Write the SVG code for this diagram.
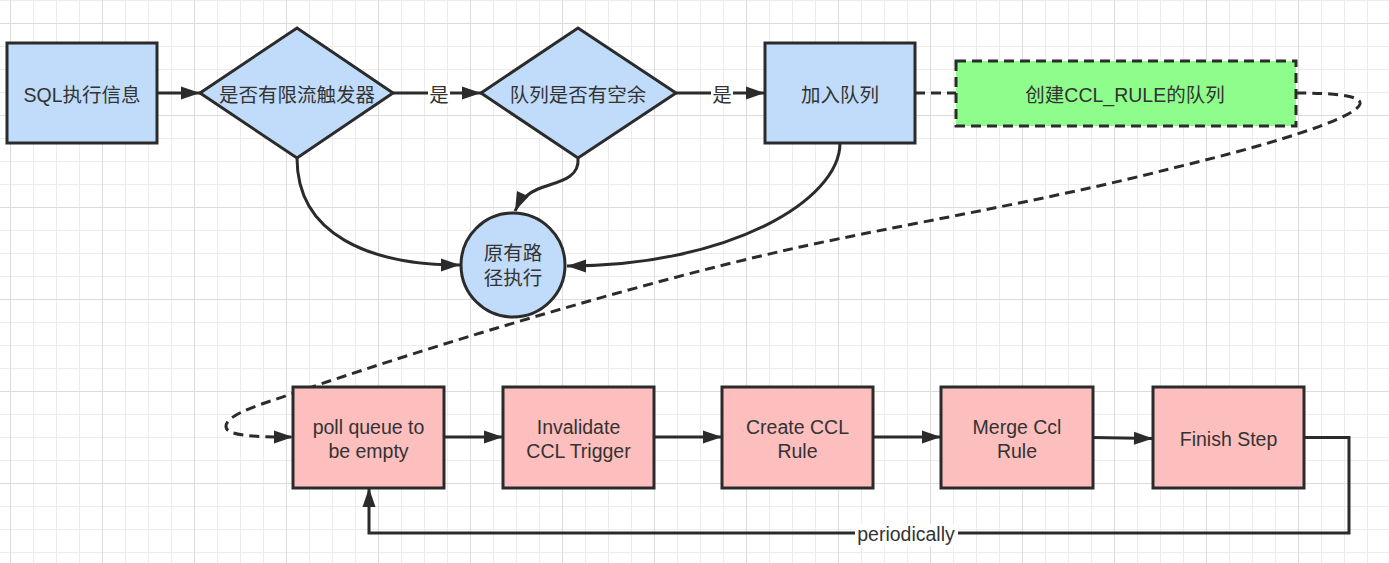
<svg xmlns="http://www.w3.org/2000/svg" width="1389" height="563" viewBox="0 0 1389 563">
<defs>
<pattern id="grid" x="10" y="23" width="92" height="92" patternUnits="userSpaceOnUse">
<rect width="92" height="92" fill="#ffffff"/>
<path d="M23.5,0V92M46.5,0V92M69.5,0V92M0,23.5H92M0,46.5H92M0,69.5H92" stroke="#ececec" stroke-width="1" fill="none"/>
<path d="M0.5,0V92M0,0.5H92" stroke="#dcdcdc" stroke-width="1" fill="none"/>
</pattern>
<marker id="arr" markerWidth="20" markerHeight="14" refX="19" refY="6.5" orient="auto" markerUnits="userSpaceOnUse" overflow="visible">
<path d="M0,0 L19,6.5 L0,13 z" fill="#2b2b2b"/>
</marker>
<style>
.node{stroke:#2b2b2b;stroke-width:3}
.blue{fill:#c0dcfa}
.pink{fill:#fdbebe}
.green{fill:#8ffd8b;stroke-dasharray:10 6}
.t{font-family:"Liberation Sans","Noto Sans CJK SC",sans-serif;font-size:19.5px;fill:#333333;text-anchor:middle}
.e{fill:none;stroke:#2b2b2b;stroke-width:3}
.dash{stroke-dasharray:10 6}
.lbl{fill:#ffffff}
</style>
</defs>
<rect width="1389" height="563" fill="url(#grid)"/>

<g id="connectors">
<path class="e" d="M157,93 L200,93" marker-end="url(#arr)"/>
<path class="e" d="M393,93 L481,93" marker-end="url(#arr)"/>
<rect class="lbl" x="428" y="84" width="22" height="22"/>
<text class="t" x="439" y="102">是</text>
<path class="e" d="M676,93 L765,93" marker-end="url(#arr)"/>
<rect class="lbl" x="711" y="84" width="22" height="22"/>
<text class="t" x="722" y="102">是</text>
<path class="e" d="M297,158 C297,235 370,265 460,265" marker-end="url(#arr)"/>
<path class="e" d="M578,158 C580,180 555,182 538,189 C528,193 520,200 515,211" marker-end="url(#arr)"/>
<path class="e" d="M840,143 C840,200 730,266 567,266" marker-end="url(#arr)"/>
<path class="e dash" d="M915,93 L956,93"/>
<path class="e dash" d="M1296,93 C1330,93 1362,95 1360,104 C1357,116 1290,140 1173,168 C1050,200 900,225 800,247 C700,269 590,300 497,328 C420,351 350,374 300,391 C270,402 225,413 226,427 C227,436 255,437 293,437" marker-end="url(#arr)"/>
<path class="e" d="M444,437 L503,437" marker-end="url(#arr)"/>
<path class="e" d="M654,437 L722,437" marker-end="url(#arr)"/>
<path class="e" d="M873,437 L941,437" marker-end="url(#arr)"/>
<path class="e" d="M1093,437.5 L1153,438.5" marker-end="url(#arr)"/>
<path class="e" d="M1304,437.5 L1349,437.5 L1349,533 L369,533 L369,488" marker-end="url(#arr)"/>
<rect class="lbl" x="855" y="524" width="103" height="22"/>
<text class="t" x="906" y="541">periodically</text>
</g>

<g id="n-sql">
<rect class="node blue" x="7" y="43" width="150" height="100"/>
<text class="t" x="82" y="101.5">SQL执行信息</text>
</g>
<g id="n-trigger">
<polygon class="node blue" points="200,93 297,28 393,93 297,158"/>
<text class="t" x="297" y="101.5">是否有限流触发器</text>
</g>
<g id="n-queue-space">
<polygon class="node blue" points="481,93 578,28 676,93 578,158"/>
<text class="t" x="578" y="101.5">队列是否有空余</text>
</g>
<g id="n-enqueue">
<rect class="node blue" x="765" y="43" width="150" height="100"/>
<text class="t" x="840" y="101.5">加入队列</text>
</g>
<g id="n-create-queue">
<rect class="node green" x="956" y="61" width="340" height="65"/>
<text class="t" x="1125" y="101.5">创建CCL_RULE的队列</text>
</g>
<g id="n-original">
<circle class="node blue" cx="513" cy="265" r="52"/>
<text class="t" x="513" y="260">原有路</text>
<text class="t" x="513" y="285">径执行</text>
</g>
<g id="n-poll">
<rect class="node pink" x="293" y="387" width="151" height="101"/>
<text class="t" x="368.5" y="434">poll queue to</text>
<text class="t" x="368.5" y="458">be empty</text>
</g>
<g id="n-invalidate">
<rect class="node pink" x="503" y="387" width="151" height="101"/>
<text class="t" x="578.5" y="434">Invalidate</text>
<text class="t" x="578.5" y="458">CCL Trigger</text>
</g>
<g id="n-create-rule">
<rect class="node pink" x="722" y="387" width="151" height="101"/>
<text class="t" x="797.5" y="434">Create CCL</text>
<text class="t" x="797.5" y="458">Rule</text>
</g>
<g id="n-merge">
<rect class="node pink" x="941" y="387" width="152" height="101"/>
<text class="t" x="1017" y="434">Merge Ccl</text>
<text class="t" x="1017" y="458">Rule</text>
</g>
<g id="n-finish">
<rect class="node pink" x="1153" y="387" width="151" height="101"/>
<text class="t" x="1228.5" y="446">Finish Step</text>
</g>
</svg>
